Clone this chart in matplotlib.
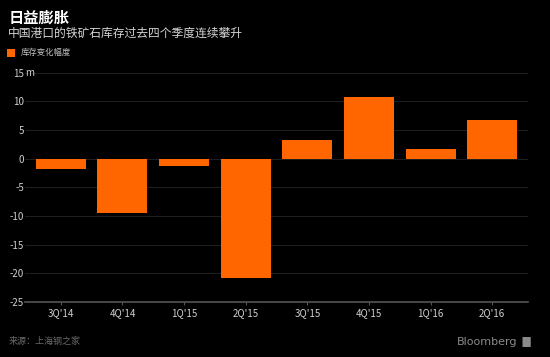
import numpy as np
import matplotlib.pyplot as plt
from matplotlib.patches import Rectangle, FancyBboxPatch

plt.rcParams['font.family'] = ['Noto Sans CJK SC', 'DejaVu Sans']

quarters = ["3Q'14", "4Q'14", "1Q'15", "2Q'15", "3Q'15", "4Q'15", "1Q'16", "2Q'16"]
change = [-1.7, -9.4, -1.3, -20.8, 3.2, 10.8, 1.7, 6.7]
yticks = [-25, -20, -15, -10, -5, 0, 5, 10, 15]

bg = '#000000'
orange = '#ff6600'

fig = plt.figure(figsize=(5.5, 3.57), dpi=100, facecolor=bg)
ax = fig.add_axes([0.045, 0.154, 0.915, 0.642], facecolor=bg)

x = np.arange(len(quarters))
ax.bar(x, change, width=0.81, color=orange, zorder=3)

ax.set_xlim(-0.585, 7.58)
ax.set_ylim(-25, 15)
ax.set_yticks(yticks)
ax.set_yticklabels([str(v) for v in yticks])
ax.set_xticks(x)
ax.set_xticklabels(quarters)

ax.grid(axis='y', color='#1e1e1e', linewidth=0.8, zorder=0)
for s in ['top', 'right', 'left']:
    ax.spines[s].set_visible(False)
ax.spines['bottom'].set_color('#555555')
ax.spines['bottom'].set_linewidth(1.2)
ax.spines['bottom'].set_zorder(4)

ax.tick_params(axis='y', length=0, pad=0.5, labelcolor='#d0d0d0', labelsize=7)
ax.tick_params(axis='x', length=2.5, width=0.8, color='#555555', pad=2,
               labelcolor='#d0d0d0', labelsize=7)

# unit after top tick label
ax.text(-0.575, 15, 'm', transform=ax.transData, ha='left', va='center',
        color='#d0d0d0', fontsize=7, clip_on=False, zorder=5)

# titles
fig.text(0.015, 0.952, '日益膨胀', color='white', fontsize=11, fontweight='bold',
         ha='left', va='center')
fig.text(0.015, 0.906, '中国港口的铁矿石库存过去四个季度连续攀升', color='#d5d5d5',
         fontsize=8.5, fontweight='medium', ha='left', va='center')

# legend
fig.patches.append(Rectangle((0.013, 0.84), 0.0145, 0.0225, transform=fig.transFigure,
                             facecolor=orange, edgecolor='none'))
fig.text(0.037, 0.852, '库存变化幅度', color='#bfbfbf', fontsize=6,
         ha='left', va='center')

# footer
fig.text(0.015, 0.045, '来源：上海钢之家', color='#6a6a6a', fontsize=6.5,
         ha='left', va='center')
fig.text(0.94, 0.042, 'Bloomberg', color='#8a8a8a', fontsize=8,
         ha='right', va='center', family='DejaVu Sans')
fig.patches.append(FancyBboxPatch((0.951, 0.029), 0.013, 0.026,
                                  boxstyle='round,pad=0.001', transform=fig.transFigure,
                                  facecolor='#8a8a8a', edgecolor='none'))

fig.savefig('out.png', dpi=100, facecolor=bg)
